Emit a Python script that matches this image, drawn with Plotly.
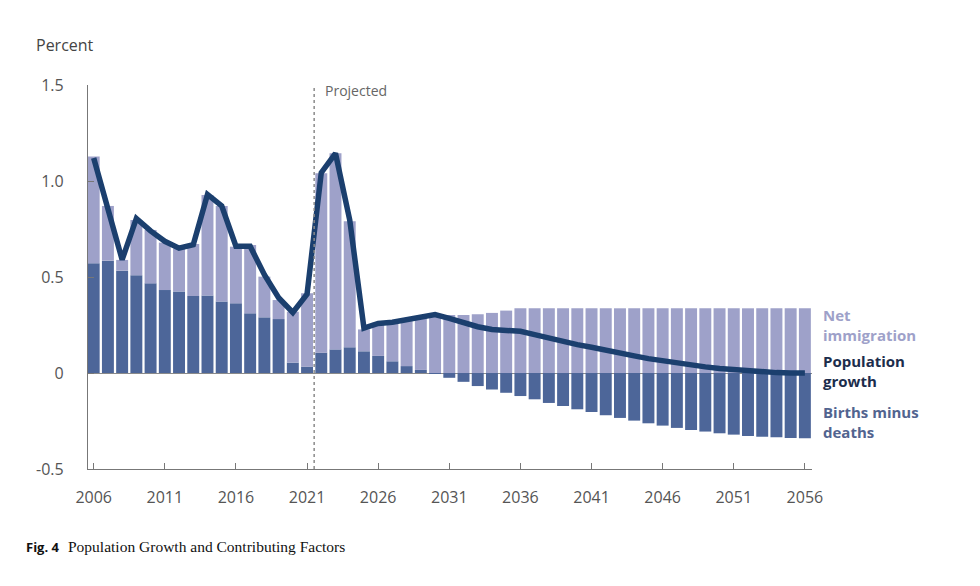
import plotly.graph_objects as go

years = list(range(2006, 2057))

births_minus_deaths = [
    0.571, 0.585, 0.533, 0.509, 0.467, 0.432, 0.425, 0.401, 0.403, 0.373,
    0.363, 0.311, 0.290, 0.281, 0.054, 0.033, 0.106, 0.123, 0.134, 0.113,
    0.089, 0.061, 0.036, 0.016, -0.005, -0.025, -0.046, -0.068, -0.086, -0.103,
    -0.120, -0.137, -0.156, -0.172, -0.189, -0.203, -0.220, -0.234, -0.248, -0.262,
    -0.274, -0.286, -0.297, -0.305, -0.314, -0.321, -0.328, -0.332, -0.335, -0.338,
    -0.340,
]

net_immigration = [
    0.556, 0.285, 0.056, 0.288, 0.278, 0.247, 0.224, 0.271, 0.524, 0.497,
    0.295, 0.356, 0.212, 0.099, 0.265, 0.382, 0.934, 1.021, 0.656, 0.114,
    0.173, 0.206, 0.244, 0.277, 0.307, 0.302, 0.302, 0.306, 0.313, 0.325,
    0.337, 0.337, 0.337, 0.337, 0.337, 0.337, 0.337, 0.337, 0.337, 0.337,
    0.337, 0.337, 0.337, 0.337, 0.337, 0.337, 0.337, 0.337, 0.337, 0.337,
    0.337,
]

population_growth = [
    1.120, 0.866, 0.590, 0.805, 0.740, 0.686, 0.650, 0.668, 0.930, 0.870,
    0.660, 0.660, 0.512, 0.392, 0.315, 0.411, 1.043, 1.144, 0.797, 0.234,
    0.258, 0.264, 0.279, 0.292, 0.304, 0.285, 0.262, 0.241, 0.227, 0.222,
    0.217, 0.200, 0.181, 0.165, 0.148, 0.134, 0.117, 0.105, 0.089, 0.075,
    0.063, 0.051, 0.040, 0.032, 0.023, 0.016, 0.010, 0.005, 0.002, 0.000,
    0.000,
]

y_ticks = [-0.5, 0, 0.5, 1.0, 1.5]
y_tick_labels = ["-0.5", "0", "0.5", "1.0", "1.5"]
x_ticks = list(range(2006, 2057, 5))

light = "#9ea1c9"
dark = "#4d6699"
navy = "#1b3f6e"
font = "Open Sans"

fig = go.Figure()
fig.add_trace(go.Bar(x=years, y=births_minus_deaths, marker=dict(color=dark, line=dict(width=0)),
                     name="Births minus deaths"))
fig.add_trace(go.Bar(x=years, y=net_immigration, marker=dict(color=light, line=dict(width=0)),
                     name="Net immigration"))
fig.add_trace(go.Scatter(x=years, y=population_growth, mode="lines",
                         line=dict(color=navy, width=5.5), name="Population growth"))

# start of the projection period
fig.add_shape(type="line", x0=2021.5, x1=2021.5, y0=-0.5, y1=1.5, xref="x", yref="y",
              line=dict(color="#8a8a8a", width=1.5, dash="dot"))

fig.update_layout(
    width=980, height=586,
    barmode="relative",
    bargap=0.16,
    showlegend=False,
    plot_bgcolor="white",
    paper_bgcolor="white",
    margin=dict(l=80, r=176, t=77, b=125),
    font=dict(family=font, color="#555555"),
    xaxis=dict(range=[2005.6, 2056.5], tickvals=x_ticks, ticks="inside", ticklen=6,
               tickcolor="#777777", showline=True, linecolor="#777777", linewidth=1.2,
               showgrid=False, zeroline=False, tickfont=dict(size=16, color="#555555"),
               ticklabelstandoff=14),
    yaxis=dict(range=[-0.5, 1.5], tickvals=y_ticks, ticktext=y_tick_labels, ticks="inside",
               ticklen=6, tickwidth=1.2, tickcolor="#777777", showline=True, linecolor="#777777",
               linewidth=1.2, showgrid=False, zeroline=True, zerolinecolor="#8a8a8a",
               zerolinewidth=1, tickfont=dict(size=16, color="#555555"),
               ticklabelstandoff=20),
    annotations=[
        dict(text="Percent", xref="paper", yref="paper", x=-0.075, y=1.104,
             xanchor="left", yanchor="middle", showarrow=False,
             font=dict(size=16, color="#444444")),
        dict(text="Projected", xref="x", yref="y", x=2022.1, y=1.469,
             xanchor="left", yanchor="middle", showarrow=False,
             font=dict(size=14, color="#666666")),
        dict(text="<b>Net<br>immigration</b>", xref="paper", yref="y", x=1.012, y=0.25,
             xanchor="left", yanchor="middle", align="left", showarrow=False,
             font=dict(size=15, color=light)),
        dict(text="<b>Population<br>growth</b>", xref="paper", yref="y", x=1.012, y=0.01,
             xanchor="left", yanchor="middle", align="left", showarrow=False,
             font=dict(size=15, color="#1c2d4c")),
        dict(text="<b>Births minus<br>deaths</b>", xref="paper", yref="y", x=1.012, y=-0.255,
             xanchor="left", yanchor="middle", align="left", showarrow=False,
             font=dict(size=15, color="#52648f")),
        dict(text="<b>Fig. 4</b>", xref="paper", yref="paper", x=-0.088, y=-0.203,
             xanchor="left", yanchor="middle", showarrow=False,
             font=dict(size=13, color="#111111", family=font)),
        dict(text="Population Growth and Contributing Factors", xref="paper", yref="paper",
             x=-0.031, y=-0.203, xanchor="left", yanchor="middle", showarrow=False,
             font=dict(size=15.5, color="#111111", family="Liberation Serif")),
    ],
)

fig.write_html("out.html")
